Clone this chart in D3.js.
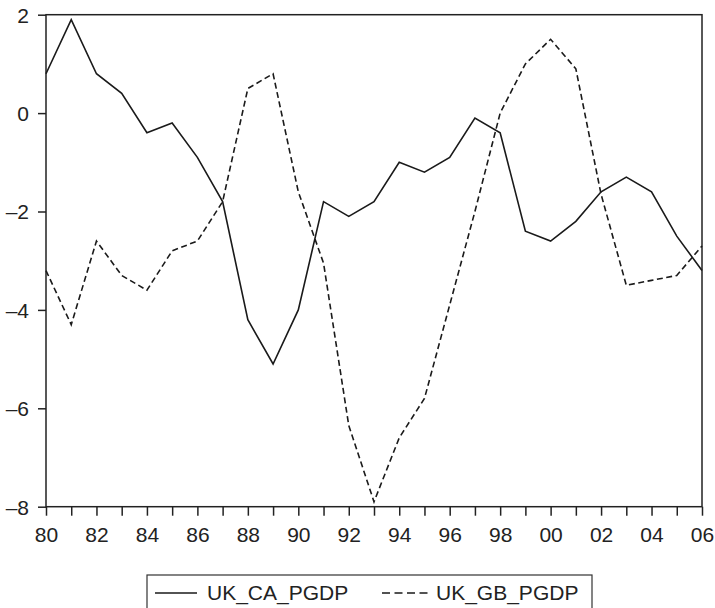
<!DOCTYPE html>
<html>
<head>
<meta charset="utf-8">
<script src="https://cdn.jsdelivr.net/npm/d3@7"></script>
<style>
  html, body { margin: 0; padding: 0; background: #fff; }
  svg { display: block; font-family: "Liberation Sans", Arial, Helvetica, sans-serif; }
</style>
</head>
<body>
<svg id="chart" width="715" height="608"></svg>
<script>
// Years 1980–2006
const years = d3.range(1980, 2007);

// UK current account balance, % of GDP
const ukCaPgdp = [0.8, 1.9, 0.8, 0.4, -0.4, -0.2, -0.9, -1.8, -4.2, -5.1,
                  -4.0, -1.8, -2.1, -1.8, -1.0, -1.2, -0.9, -0.1, -0.4, -2.4,
                  -2.6, -2.2, -1.6, -1.3, -1.6, -2.5, -3.2];

// UK general government balance, % of GDP
const ukGbPgdp = [-3.2, -4.3, -2.6, -3.3, -3.6, -2.8, -2.6, -1.8, 0.5, 0.8,
                  -1.6, -3.05, -6.35, -7.9, -6.6, -5.8, -3.9, -2.0, 0.0, 1.0,
                  1.5, 0.9, -1.65, -3.5, -3.4, -3.3, -2.7];

const yTicks = [2, 0, -2, -4, -6, -8];

const seriesNames = ["UK_CA_PGDP", "UK_GB_PGDP"];

const svg = d3.select("#chart");
const plotLeft = 46, plotRight = 702, plotTop = 14.7, plotBottom = 506.7;

const x = d3.scaleLinear().domain([1980, 2006]).range([plotLeft, plotRight]);
const y = d3.scaleLinear().domain([-8, 2]).range([plotBottom, plotTop]);

const fmtY = v => (v < 0 ? "\u2013" + Math.abs(v) : String(v));
const fmtX = v => String(v % 100).padStart(2, "0");

// y axis
const yAxis = svg.append("g")
  .attr("transform", `translate(${plotLeft},0)`)
  .call(d3.axisLeft(y).tickValues(yTicks).tickSize(8).tickPadding(9).tickFormat(fmtY));

// x axis: minor tick each year, label every second year
const xAxis = svg.append("g")
  .attr("transform", `translate(0,${plotBottom})`)
  .call(d3.axisBottom(x).tickValues(years).tickSize(9).tickPadding(11)
    .tickFormat(d => (d % 2 === 0 ? fmtX(d) : "")));

[yAxis, xAxis].forEach(g => {
  g.select(".domain").remove();
  g.selectAll(".tick line").attr("stroke", "#222").attr("stroke-width", 1.5);
  g.selectAll(".tick text")
    .attr("fill", "#222")
    .style("font-size", "21px");
});
yAxis.selectAll(".tick text").attr("dy", "0.35em");
xAxis.selectAll(".tick text").attr("dy", "0.71em");

// plot frame
svg.append("rect")
  .attr("x", plotLeft).attr("y", plotTop)
  .attr("width", plotRight - plotLeft).attr("height", plotBottom - plotTop)
  .attr("fill", "none").attr("stroke", "#222").attr("stroke-width", 1.5);

const line = d3.line().x((d, i) => x(years[i])).y(d => y(d));

svg.append("path")
  .datum(ukCaPgdp)
  .attr("d", line)
  .attr("fill", "none")
  .attr("stroke", "#1a1a1a")
  .attr("stroke-width", 1.6)
  .attr("stroke-linejoin", "miter");

svg.append("path")
  .datum(ukGbPgdp)
  .attr("d", line)
  .attr("fill", "none")
  .attr("stroke", "#1a1a1a")
  .attr("stroke-width", 1.6)
  .attr("stroke-dasharray", "6,3.5");

// legend
const legend = svg.append("g");
legend.append("rect")
  .attr("x", 147).attr("y", 575)
  .attr("width", 445).attr("height", 60)
  .attr("fill", "none").attr("stroke", "#333").attr("stroke-width", 1.2);

const legendItems = [
  { name: seriesNames[0], x0: 155, x1: 197, tx: 207, dash: null },
  { name: seriesNames[1], x0: 382, x1: 430, tx: 436, dash: "8,4.5" }
];
legendItems.forEach(it => {
  legend.append("line")
    .attr("x1", it.x0).attr("x2", it.x1)
    .attr("y1", 593).attr("y2", 593)
    .attr("stroke", "#1a1a1a").attr("stroke-width", 1.5)
    .attr("stroke-dasharray", it.dash);
  legend.append("text")
    .attr("x", it.tx).attr("y", 593)
    .attr("dy", "0.35em")
    .attr("fill", "#222")
    .style("font-size", "21px")
    .text(it.name);
});
</script>
</body>
</html>
